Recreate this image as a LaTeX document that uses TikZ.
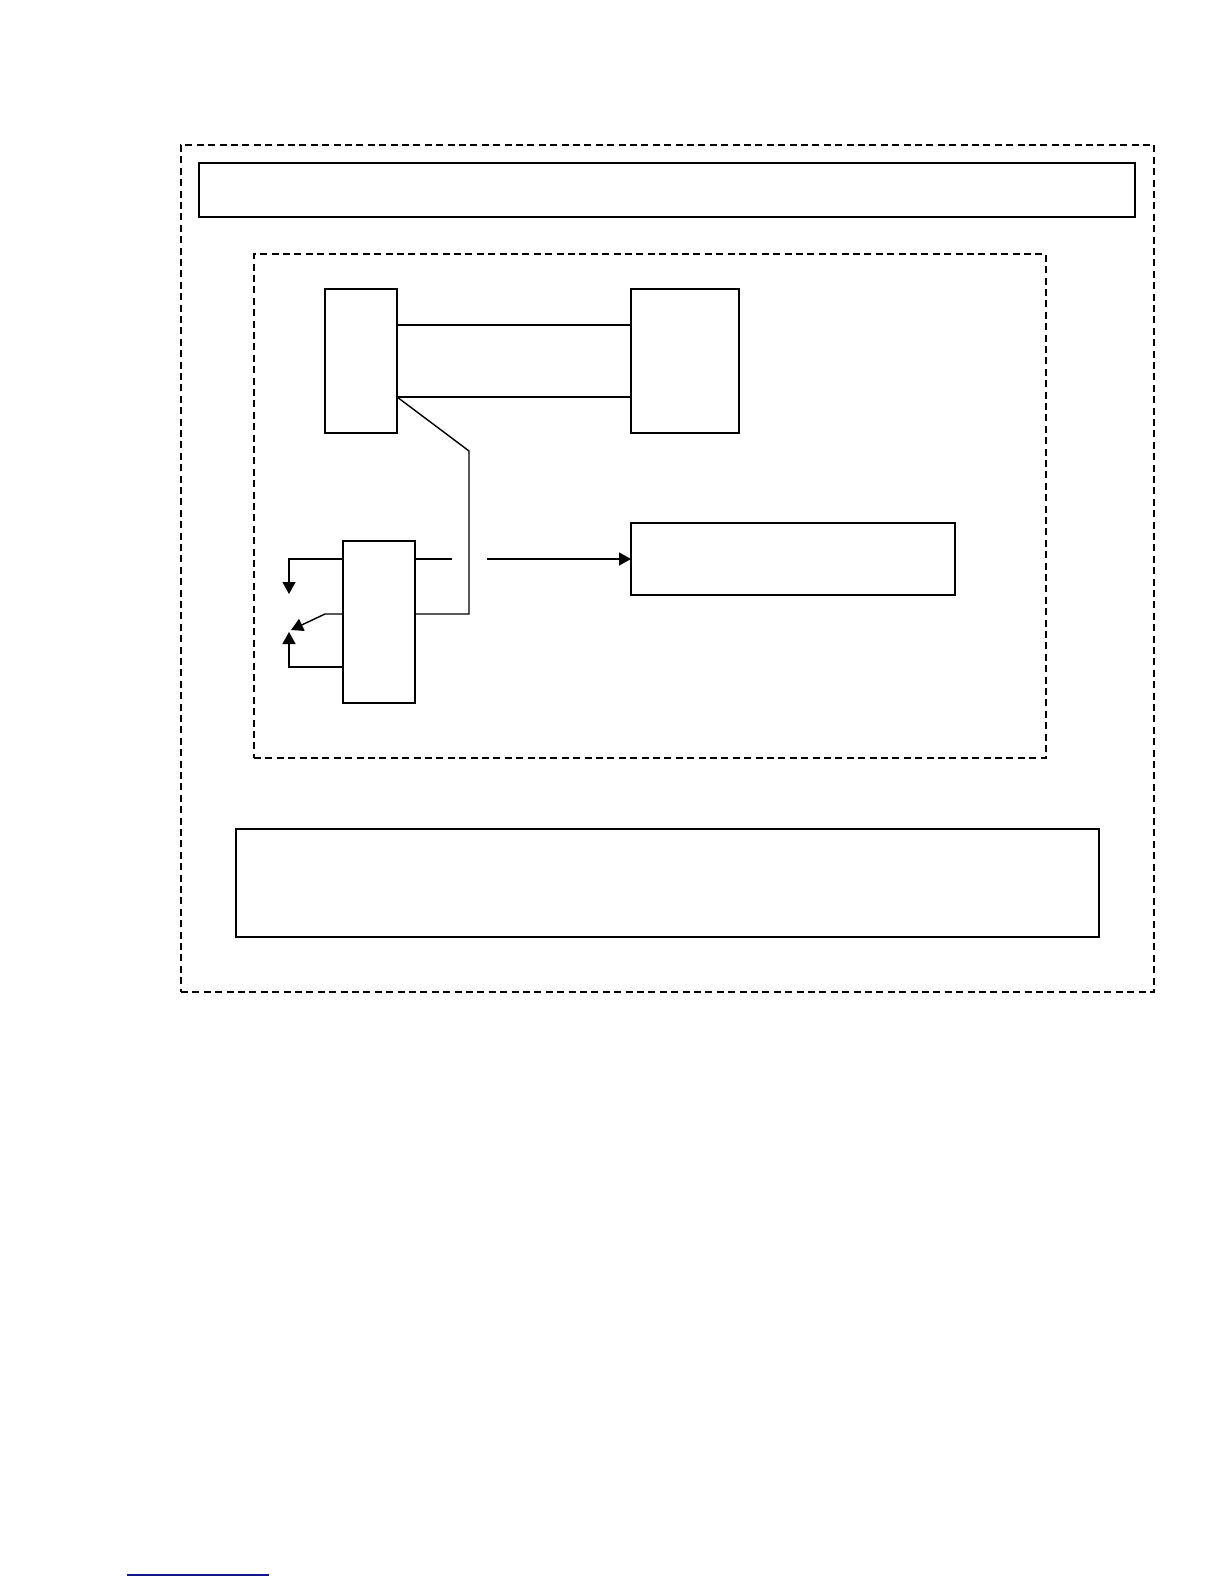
\documentclass[tikz,border=0pt]{standalone}
\usepackage{tikz}
\usetikzlibrary{arrows.meta,positioning,calc}
\definecolor{linkblue}{RGB}{20,20,140}

\begin{document}
\begin{tikzpicture}[x=0.5pt, y=-0.5pt,
    box/.style={draw, line width=0.7pt, inner sep=0pt, outer sep=0pt, anchor=north west},
    frame/.style={box, line width=0.6pt, dash pattern=on 3.5pt off 2.2pt},
    wire/.style={line width=0.7pt},
    arr/.style={wire, -{Triangle[length=6pt, width=6.5pt]}}]
  \useasboundingbox (0,0) rectangle (1224,1584);

  % Frames
  \node[frame, minimum width=486.5pt, minimum height=423.5pt] (system) at (181,145) {};
  \node[frame, minimum width=396pt, minimum height=252pt] (unit) at (254,254) {};

  % Boxes
  \node[box, minimum width=468pt, minimum height=27pt] (header) at (199,163) {};
  \node[box, minimum width=431.5pt, minimum height=54pt] (footer) at (236,829) {};
  \node[box, minimum width=36pt, minimum height=72pt] (left) at (325,289) {};
  \node[box, minimum width=54pt, minimum height=72pt] (right) at (631,289) {};
  \node[box, minimum width=162pt, minimum height=36pt] (output) at (631,523) {};
  \node[box, minimum width=36pt, minimum height=81pt] (switch) at (343,541) {};

  % Helper points
  \coordinate (kneeA) at (469,451);
  \coordinate (kneeB) at (469,614);
  \coordinate (gapL) at (452,559);
  \coordinate (gapR) at (487,559);

  % Links between left and right
  \draw[wire] ($(left.north east)!0.25!(left.south east)$)
    -- ($(right.north west)!0.25!(right.south west)$);
  \draw[wire] ($(left.north east)!0.75!(left.south east)$)
    -- ($(right.north west)!0.75!(right.south west)$);
  \draw[wire] ($(left.north east)!0.75!(left.south east)$)
    -- (kneeA) -- (kneeB) -- (switch.east |- kneeB);

  % Output line with gap
  \draw[wire] (switch.east |- gapL) -- (gapL);
  \draw[arr] (gapR) -- (output.west);

  % Contacts on the left
  \draw[arr] (switch.west |- 0,559) -- (289,559) -- (289,594);
  \draw[arr] (switch.west |- 0,614) -- (325,614) -- (291,630);
  \draw[arr] (switch.west |- 0,667) -- (289,667) -- (289,632);

  % Footnote rule
  \draw[linkblue, line width=0.6pt] (127,1575) -- (269,1575);
\end{tikzpicture}
\end{document}
